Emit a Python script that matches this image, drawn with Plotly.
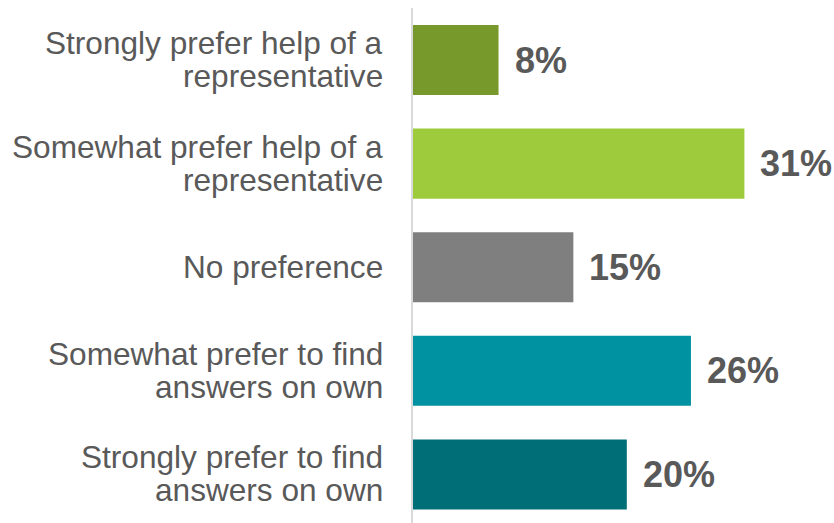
import plotly.graph_objects as go

# Survey responses: preference for help from a representative vs. self-service
categories = [
    "Strongly prefer help of a<br>representative",
    "Somewhat prefer help of a<br>representative",
    "No preference",
    "Somewhat prefer to find<br>answers on own",
    "Strongly prefer to find<br>answers on own",
]
values = [8, 31, 15, 26, 20]
bar_colors = ["#77982a", "#9ecb3b", "#7f7f7f", "#0092a0", "#006e76"]

label_color = "#595959"
label_font = "Liberation Sans, Arial, sans-serif"

positions = list(range(len(categories)))

fig = go.Figure(
    go.Bar(
        x=values,
        y=positions,
        orientation="h",
        width=0.676,
        marker=dict(color=bar_colors, line=dict(width=0)),
        hoverinfo="skip",
    )
)

annotations = []
# Value labels to the right of each bar
for pos, v in zip(positions, values):
    annotations.append(dict(
        x=v, y=pos, xref="x", yref="y",
        text=f"<b>{v}%</b>", showarrow=False,
        xanchor="left", yanchor="middle", xshift=15, borderpad=0,
        font=dict(family=label_font, size=36, color=label_color),
    ))

# Category labels, one annotation per line for tight line spacing
for pos, cat in zip(positions, categories):
    lines = cat.split("<br>")
    if len(lines) == 1:
        shifts = [0]
    else:
        shifts = [17, -16]
    for line, ys in zip(lines, shifts):
        annotations.append(dict(
            x=0, y=pos, xref="paper", yref="y",
            text=line, showarrow=False,
            xanchor="right", yanchor="middle", xshift=-29, yshift=ys,
            borderpad=0,
            font=dict(family=label_font, size=31.6, color=label_color),
        ))

fig.update_layout(
    width=834, height=523,
    margin=dict(l=413, r=0, t=8, b=0),
    paper_bgcolor="white", plot_bgcolor="white",
    showlegend=False,
    annotations=annotations,
    xaxis=dict(
        range=[0, 39.38], showgrid=False, zeroline=False,
        showticklabels=False, showline=False, ticks="",
    ),
    yaxis=dict(
        range=[4.469, -0.502], showgrid=False, zeroline=False,
        showticklabels=False, ticks="",
        showline=True, linecolor="#d9d9d9", linewidth=2,
    ),
)

fig.write_html("out.html")
